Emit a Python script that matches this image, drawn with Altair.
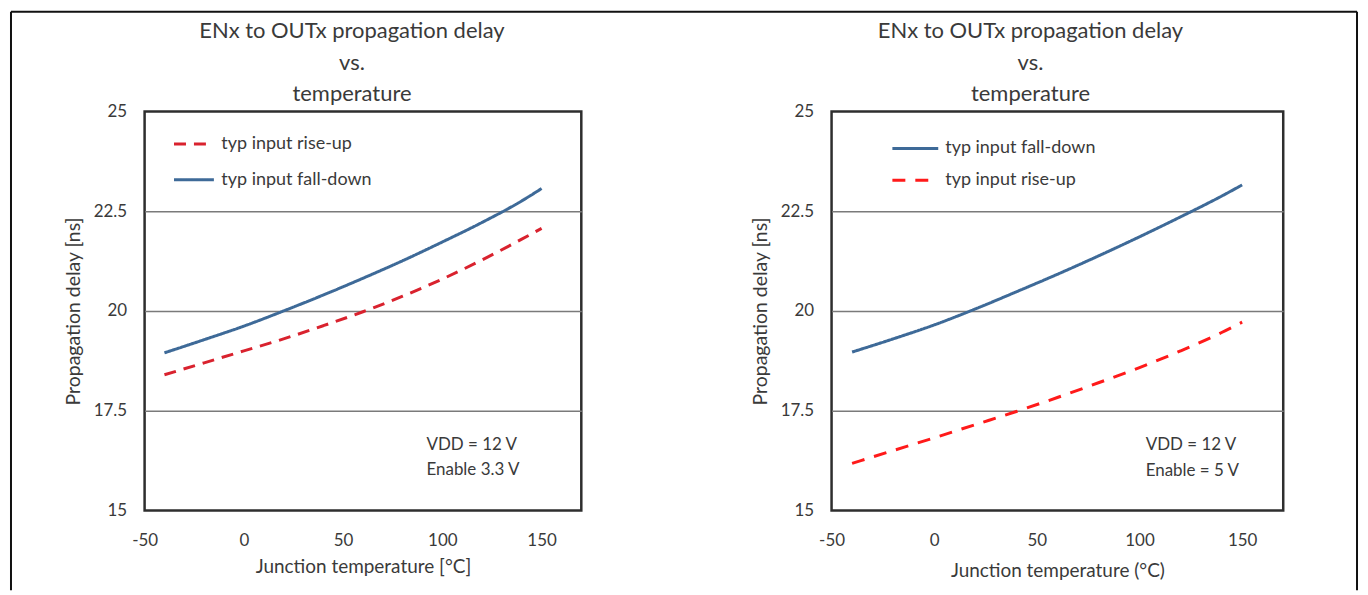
import altair as alt
import pandas as pd

# ---- data ----
temps = [-40, -20, 0, 20, 40, 60, 80, 100, 120, 140, 150]
left_fall = [18.95, 19.28, 19.62, 20.0, 20.4, 20.82, 21.26, 21.73, 22.22, 22.76, 23.07]
left_rise = [18.4, 18.7, 19.0, 19.3, 19.63, 19.98, 20.37, 20.8, 21.28, 21.8, 22.07]
right_fall = [18.97, 19.3, 19.65, 20.05, 20.48, 20.92, 21.38, 21.86, 22.36, 22.88, 23.16]
right_rise = [16.18, 16.5, 16.82, 17.15, 17.48, 17.83, 18.2, 18.58, 19.0, 19.46, 19.72]

series_rise = "typ input rise-up"
series_fall = "typ input fall-down"

title_lines = ["ENx to OUTx  propagation delay", "vs.", "temperature"]
y_title = "Propagation delay [ns]"
x_title_left = "Junction temperature [°C]"
x_title_right = "Junction temperature (°C)"
y_ticks = [15, 17.5, 20, 22.5, 25]
x_ticks = [-50, 0, 50, 100, 150]
ann_left = ["VDD = 12 V", "Enable 3.3 V"]
ann_right = ["VDD = 12 V", "Enable = 5 V"]

FONT = "Lato"
TXT = "#3a3a3a"
BLUE = "#3E6A98"
RED_L = "#D9222E"
RED_R = "#FF1A1A"


def long_df(fall, rise):
    rows = []
    for t, v in zip(temps, fall):
        rows.append({"temp": t, "delay": v, "series": series_fall})
    for t, v in zip(temps, rise):
        rows.append({"temp": t, "delay": v, "series": series_rise})
    return pd.DataFrame(rows)


one = pd.DataFrame({"k": [0]})


def legend(lx, ly, rowpad, size, off):
    return alt.Legend(title=None, orient="none", legendX=lx, legendY=ly,
                      symbolType="M-2,0L2,0", symbolSize=size, symbolStrokeWidth=3,
                      labelOffset=off, rowPadding=rowpad, labelFontSize=18, padding=0)


def panel(df, order, colors, dashes, width, leg, tdx, ann, ann_x, ann_y,
          xtitle, xtpad, frame_rules):
    x = alt.X("temp:Q", scale=alt.Scale(domain=[-50, 170], nice=False, zero=False),
              axis=alt.Axis(values=x_ticks, grid=False, domain=False, ticks=False,
                            labelFlush=False,
                            labelExpr="datum.value < 0 ? '-' + abs(datum.value) : '' + datum.value",
                            labelPadding=22, title=xtitle, titlePadding=xtpad,
                            labelFontSize=17, titleFontSize=19))
    y = alt.Y("delay:Q", scale=alt.Scale(domain=[15, 25], nice=False, zero=False),
              axis=alt.Axis(values=y_ticks, format=".1~f", grid=True,
                            gridColor={"condition": {"test": "datum.value === 15 || datum.value === 25",
                                                     "value": "transparent"},
                                       "value": "#7a7a7a"},
                            gridWidth=1.6, domain=False, ticks=False, labelPadding=18,
                            title=y_title, titlePadding=10, labelFontSize=17, titleFontSize=19.5))
    lines = alt.Chart(df).mark_line(strokeWidth=3, interpolate="monotone").encode(
        x=x, y=y,
        color=alt.Color("series:N", scale=alt.Scale(domain=order, range=colors),
                        legend=legend(*leg)),
        strokeDash=alt.StrokeDash("series:N", scale=alt.Scale(domain=order, range=dashes),
                                  legend=legend(*leg)),
        order=alt.Order("temp:Q"),
    )
    t1 = alt.Chart(one).mark_text(align="left", baseline="middle", fontSize=17, font=FONT,
                                  color=TXT).encode(
        x=alt.datum(ann_x), y=alt.datum(ann_y[0]), text=alt.value(ann[0]))
    t2 = alt.Chart(one).mark_text(align="left", baseline="middle", fontSize=17, font=FONT,
                                  color=TXT).encode(
        x=alt.datum(ann_x), y=alt.datum(ann_y[1]), text=alt.value(ann[1]))
    ttl = alt.Chart(one).mark_text(align="center", baseline="middle", fontSize=22, font=FONT,
                                   color=TXT, lineHeight=31.5).encode(
        x=alt.value(width / 2 + tdx), y=alt.value(-80.5), text=alt.value(title_lines))
    layers = [lines, t1, t2, ttl]
    for r in frame_rules:
        layers.append(alt.Chart(one).mark_rule(color="#111111", strokeWidth=2).encode(**r))
    return alt.layer(*layers).properties(width=width, height=400)


left = panel(long_df(left_fall, left_rise), [series_rise, series_fall], [RED_L, BLUE],
             [[12, 8], [1, 0]], 438, (38, 21, 15, 400, 16), -11, ann_left, 92, [16.65, 16.0],
             x_title_left, 9,
             [dict(x=alt.value(-134), y=alt.value(-100), y2=alt.value(480)),
              dict(x=alt.value(-134), x2=alt.value(1216), y=alt.value(-100))])
right = panel(long_df(right_fall, right_rise), [series_fall, series_rise], [BLUE, RED_R],
              [[1, 0], [13, 10]], 453, (71, 24, 10, 529, 17), -27, ann_right, 103, [16.63, 15.98],
              x_title_right, 13,
              [dict(x=alt.value(527), y=alt.value(-100), y2=alt.value(480))])

chart = alt.hconcat(left, right, spacing=251, bounds="flush").resolve_scale(
    color="independent", strokeDash="independent", x="independent", y="independent"
).resolve_legend(color="independent", strokeDash="independent").properties(
    padding=0
).configure_view(stroke="#2e2e2e", strokeWidth=2.5).configure_axis(
    labelFont=FONT, titleFont=FONT, labelColor=TXT, titleColor=TXT, titleFontWeight="normal"
).configure_legend(labelFont=FONT, labelColor=TXT)

chart.save("out.html", embed_options={"renderer": "svg", "actions": False})
